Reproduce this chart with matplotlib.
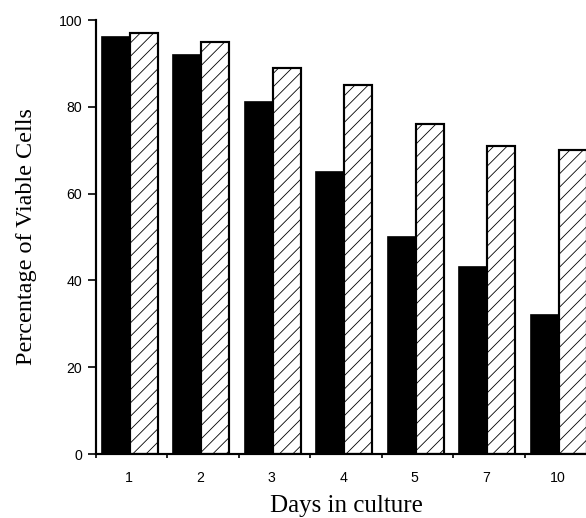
import matplotlib
matplotlib.use("Agg")
import matplotlib.pyplot as plt
import numpy as np

days = ['1', '2', '3', '4', '5', '7', '10']
viable_black = [96, 92, 81, 65, 50, 43, 32]
viable_hatched = [97, 95, 89, 85, 76, 71, 70]
yticks = [0, 20, 40, 60, 80, 100]

DPI = 120
plt.rcParams['hatch.linewidth'] = 0.5
fig = plt.figure(figsize=(586 / DPI, 518 / DPI), dpi=DPI)
ax = fig.add_axes([96 / 586, 64 / 518, 500 / 586, 434 / 518])

x = np.arange(len(days))
w = 0.392
ax.bar(x + 0.084, viable_black, width=w, align='edge', color='black',
       edgecolor='black', linewidth=1.0)
ax.bar(x + 0.084 + w, viable_hatched, width=w, align='edge', color='white',
       edgecolor='black', linewidth=1.3, hatch='///')

ax.set_xlim(0, len(days))
ax.set_ylim(0, 100)
ax.spines['top'].set_visible(False)
ax.spines['right'].set_visible(False)
ax.spines['left'].set_linewidth(1.3)
ax.spines['bottom'].set_linewidth(1.3)

tick_font = dict(fontfamily='Liberation Sans', fontsize=8.5)
ax.set_yticks(yticks)
ax.set_yticklabels([str(t) for t in yticks], **tick_font)
ax.tick_params(axis='y', length=4.8, width=1.0, pad=3.5)

ax.set_xticks(np.arange(len(days) + 1))
ax.set_xticklabels([])
ax.tick_params(axis='x', which='major', length=2.5, width=1.0)
ax.set_xticks(x + 0.46, minor=True)
ax.set_xticklabels(days, minor=True, **tick_font)
ax.tick_params(axis='x', which='minor', length=0, pad=10)

ax.set_xlabel('Days in culture', fontfamily='Liberation Serif', fontsize=15, labelpad=6)
ax.set_ylabel('Percentage of Viable Cells', fontfamily='Liberation Serif', fontsize=14.5, labelpad=13)

fig.savefig('out.png', dpi=DPI)
